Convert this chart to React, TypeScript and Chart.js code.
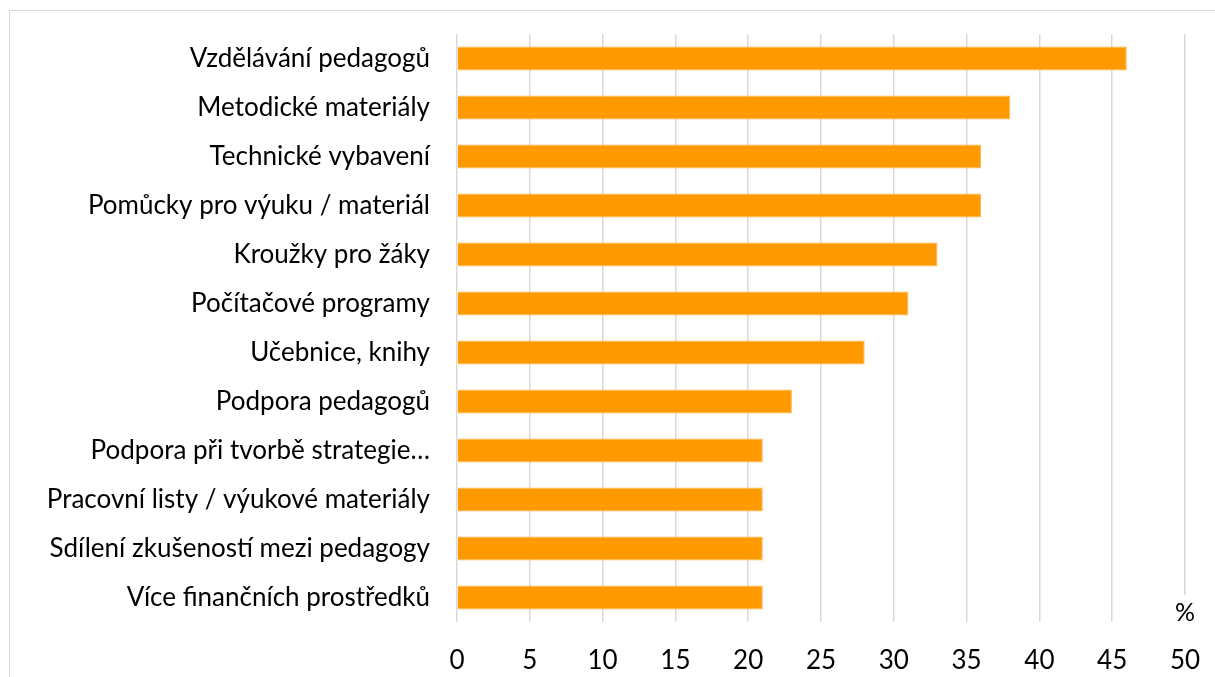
import React, { useEffect, useRef } from "react";
import { Chart, registerables } from "chart.js";

Chart.register(...registerables);

const categories = [
  "Vzdělávání pedagogů",
  "Metodické materiály",
  "Technické vybavení",
  "Pomůcky pro výuku / materiál",
  "Kroužky pro žáky",
  "Počítačové programy",
  "Učebnice, knihy",
  "Podpora pedagogů",
  "Podpora při tvorbě strategie…",
  "Pracovní listy / výukové materiály",
  "Sdílení zkušeností mezi pedagogy",
  "Více finančních prostředků",
];
const values = [46, 38, 36, 36, 33, 31, 28, 23, 21, 21, 21, 21];
const axisMin = 0;
const axisMax = 50;
const axisStep = 5;
const unitLabel = "%";

const FONT = "Lato, 'Open Sans', sans-serif";

export default function App() {
  const ref = useRef<HTMLCanvasElement | null>(null);

  useEffect(() => {
    if (!ref.current) return;
    const unitPlugin = {
      id: "unitLabel",
      afterDraw(chart: any) {
        const { ctx } = chart;
        const x = chart.scales.x.getPixelForValue(axisMax);
        const y = chart.chartArea.bottom + 3;
        ctx.save();
        ctx.font = `25px ${FONT}`;
        const w = ctx.measureText(unitLabel).width;
        ctx.fillStyle = "#ffffff";
        ctx.fillRect(x - w / 2 - 2, y - 30, w + 4, 30);
        ctx.fillStyle = "#000000";
        ctx.textAlign = "center";
        ctx.textBaseline = "bottom";
        ctx.fillText(unitLabel, x, y);
        ctx.restore();
      },
    };
    const chart = new Chart(ref.current, {
      type: "bar",
      data: {
        labels: categories,
        datasets: [
          {
            data: values,
            backgroundColor: "#FF9900",
            borderColor: "#FFB347",
            borderWidth: 1,
            categoryPercentage: 1,
            barPercentage: 0.49,
          },
        ],
      },
      options: {
        indexAxis: "y",
        animation: false,
        responsive: false,
        maintainAspectRatio: false,
        layout: { padding: { top: 34, right: 30, bottom: 0, left: 0 } },
        plugins: {
          legend: { display: false },
          tooltip: { enabled: false },
        },
        scales: {
          x: {
            min: axisMin,
            max: axisMax,
            ticks: {
              stepSize: axisStep,
              color: "#000000",
              font: { family: FONT, size: 26 },
              padding: 23,
            },
            grid: {
              color: "#d9d9d9",
              lineWidth: 1.5,
              drawTicks: false,
            },
            border: { display: false },
            afterFit(scale: any) {
              scale.height = 55;
              scale.paddingLeft = 0;
              scale.paddingRight = 0;
            },
          },
          y: {
            ticks: {
              color: "#000000",
              font: { family: FONT, size: 26 },
              padding: 27,
            },
            grid: { display: false, drawTicks: false },
            border: { display: false },
            afterFit(scale: any) {
              scale.width = 457;
              scale.paddingTop = 0;
              scale.paddingBottom = 0;
            },
          },
        },
      },
      plugins: [unitPlugin],
    });
    return () => chart.destroy();
  }, []);

  return (
    <div style={{ position: "fixed", left: 0, top: 0, width: 1215, height: 677, background: "#fff", overflow: "hidden" }}>
      <div
        style={{
          position: "absolute",
          left: 9,
          top: 10,
          width: 1300,
          height: 800,
          border: "1px solid #d9d9d9",
          boxSizing: "border-box",
        }}
      />
      <canvas ref={ref} width={1215} height={677} style={{ position: "absolute", left: 0, top: 0, width: 1215, height: 677 }} />
    </div>
  );
}
